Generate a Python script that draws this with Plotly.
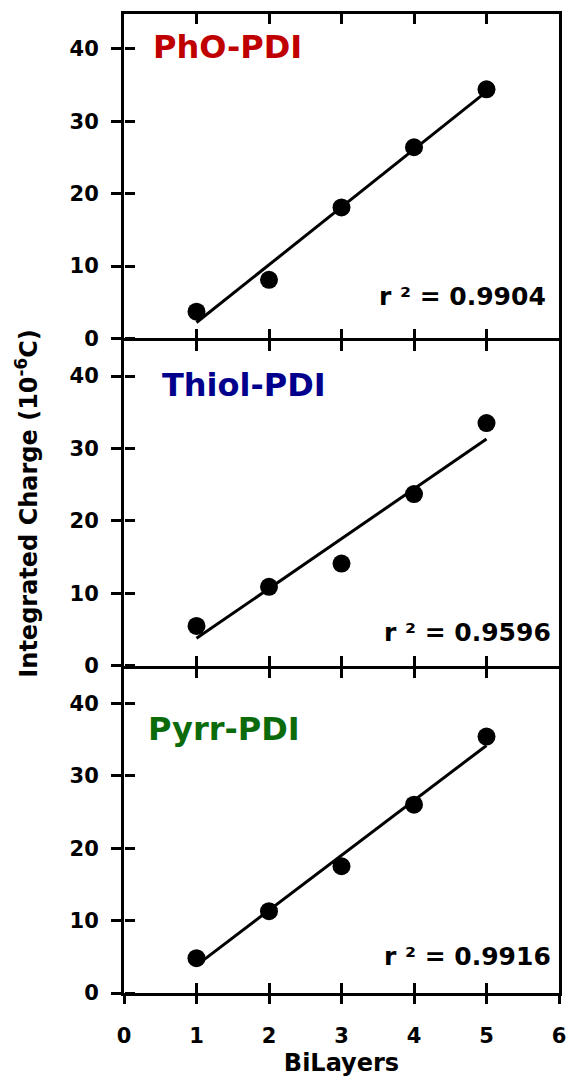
import numpy as np
import plotly.graph_objects as go

# ---- data ----
bilayers = [1, 2, 3, 4, 5]
pho_pdi = [3.7, 8.1, 18.1, 26.4, 34.4]
thiol_pdi = [5.5, 10.9, 14.1, 23.7, 33.5]
pyrr_pdi = [4.8, 11.3, 17.5, 26.0, 35.4]

names = ["PhO-PDI", "Thiol-PDI", "Pyrr-PDI"]
name_colors = ["#c00000", "#00008c", "#0b6b0b"]
r2_labels = ["r \u00b2 = 0.9904", "r \u00b2 = 0.9596", "r \u00b2 = 0.9916"]
x_ticks = [0, 1, 2, 3, 4, 5, 6]
y_ticks = [0, 10, 20, 30, 40]

series = [pho_pdi, thiol_pdi, pyrr_pdi]
name_pos = [(0.37, 40.2), (0.50, 38.8), (0.31, 36.5)]
r2_pos = [(5.85, 5.8), (5.92, 4.6), (5.92, 5.1)]

FONT = "DejaVu Sans"
W, H = 576, 1082
ML, MR, MT, MB = 123.5, 10, 14, 89
YR = [0, 44.8]
XR = [0, 6]
LW = 2.8

fig = go.Figure()

for i, ys in enumerate(series):
    k = "" if i == 0 else str(i + 1)
    xa, ya = "x" + k, "y" + k
    slope, icpt = np.polyfit(bilayers, ys, 1)
    xf = np.array([min(bilayers), max(bilayers)], dtype=float)
    fig.add_trace(go.Scatter(x=xf, y=slope * xf + icpt, mode="lines",
                             line=dict(color="black", width=3),
                             xaxis=xa, yaxis=ya, showlegend=False, hoverinfo="skip"))
    fig.add_trace(go.Scatter(x=bilayers, y=ys, mode="markers",
                             marker=dict(color="black", size=18),
                             xaxis=xa, yaxis=ya, showlegend=False))
    # invisible companion traces so the overlay y axes are drawn
    for extra in (i + 4, i + 7):
        fig.add_trace(go.Scatter(x=bilayers, y=ys, mode="markers", marker=dict(opacity=0),
                                 xaxis=xa, yaxis="y" + str(extra), showlegend=False,
                                 hoverinfo="skip"))
    fig.add_annotation(x=name_pos[i][0], y=name_pos[i][1], xref=xa, yref=ya,
                       text=names[i], showarrow=False, xanchor="left", yanchor="middle",
                       font=dict(family=FONT, size=32, color=name_colors[i], weight="bold"))
    fig.add_annotation(x=r2_pos[i][0], y=r2_pos[i][1], xref=xa, yref=ya,
                       text=r2_labels[i], showarrow=False, xanchor="right", yanchor="middle",
                       font=dict(family=FONT, size=25, color="black", weight="bold"))

# invisible companion trace for the bottom overlay x axis (outside ticks + labels)
fig.add_trace(go.Scatter(x=bilayers, y=pyrr_pdi, mode="markers", marker=dict(opacity=0),
                         xaxis="x4", yaxis="y3", showlegend=False, hoverinfo="skip"))

plot_h = H - MT - MB
g = LW / plot_h
h = (1 - 2 * g) / 3
domains = [[2 * h + 2 * g, 1], [h + g, 2 * h + g], [0, h]]

tickfont = dict(family=FONT, size=21, color="black", weight="bold")
common_x = dict(range=XR, tickvals=x_ticks, showgrid=False, zeroline=False,
                showline=True, linecolor="black", linewidth=LW,
                ticks="inside", ticklen=10, tickwidth=2.5, tickcolor="black",
                mirror="ticks", showticklabels=False)
common_y = dict(range=YR, tickvals=y_ticks, showgrid=False, zeroline=False,
                showline=True, linecolor="black", linewidth=LW,
                ticks="outside", ticklen=10, tickwidth=2.5, tickcolor="black",
                mirror=True, showticklabels=False)

layout = dict(width=W, height=H, margin=dict(l=ML, r=MR, t=MT, b=MB),
              paper_bgcolor="white", plot_bgcolor="white", showlegend=False)

for i in range(3):
    k = "" if i == 0 else str(i + 1)
    layout["xaxis" + k] = dict(common_x, anchor="y" + k, domain=[0, 1])
    layout["yaxis" + k] = dict(common_y, anchor="x" + k, domain=domains[i])
    # inward half of the crossing y ticks: a right-side axis placed on the left edge
    layout["yaxis" + str(i + 4)] = dict(range=YR, tickvals=y_ticks, overlaying="y" + k,
                                        anchor="free", position=0, side="right",
                                        showgrid=False, zeroline=False, showline=False,
                                        ticks="outside", ticklen=10, tickwidth=2.5,
                                        tickcolor="black", showticklabels=False)
    # tick labels, pushed away from the axis by transparent ticks
    layout["yaxis" + str(i + 7)] = dict(range=YR, tickvals=y_ticks, overlaying="y" + k,
                                        anchor="x" + k, side="left", showgrid=False,
                                        zeroline=False, showline=False, ticks="outside",
                                        ticklen=20, tickwidth=1, tickcolor="rgba(0,0,0,0)",
                                        showticklabels=True, tickfont=tickfont)

layout["xaxis4"] = dict(range=XR, tickvals=x_ticks, overlaying="x3", anchor="y3", side="bottom",
                        showgrid=False, zeroline=False, showline=False,
                        ticks="outside", ticklen=10, tickwidth=2.5, tickcolor="black",
                        showticklabels=True, tickfont=tickfont, ticklabelstandoff=14,
                        title=dict(text="BiLayers", standoff=6,
                                   font=dict(family=FONT, size=24, color="black", weight="bold")))

fig.update_layout(**layout)

fig.add_annotation(x=-0.225, y=0.5, xref="paper", yref="paper",
                   text="Integrated Charge (10<sup>-6</sup>C)", textangle=-90,
                   showarrow=False, xanchor="center", yanchor="middle",
                   font=dict(family=FONT, size=24, color="black", weight="bold"))

fig.write_html("out.html")
